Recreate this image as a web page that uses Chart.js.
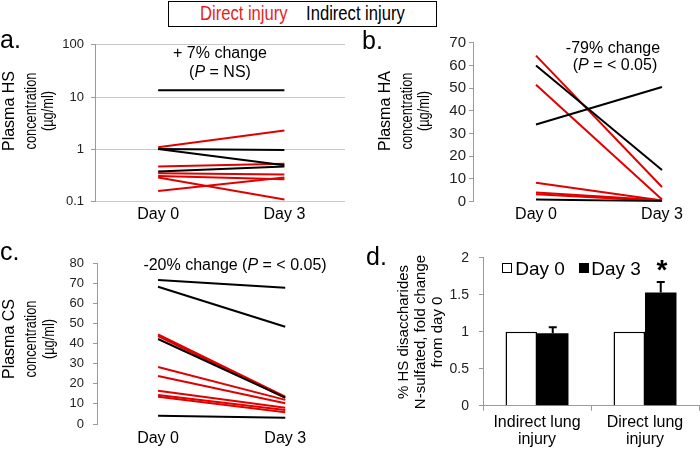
<!DOCTYPE html>
<html>
<head>
<meta charset="utf-8">
<script src="https://cdn.jsdelivr.net/npm/chart.js@4.4.1/dist/chart.umd.min.js"></script>
<style>
  body { margin: 0; width: 700px; height: 449px; position: relative; background: #fff; overflow: hidden;
         font-family: 'Liberation Sans', Arial, sans-serif; color: #000; }
  canvas { position: absolute; }
  .t { position: absolute; white-space: nowrap; line-height: 1; transform: translate(-50%, -50%); }
  .v { position: absolute; white-space: nowrap; line-height: 1; transform: translate(-50%, -50%) rotate(-90deg); }
  .vn { position: absolute; white-space: nowrap; line-height: 1; font-size: 16px;
        transform: translate(-50%, -50%) rotate(-90deg) scaleX(0.8); }
  .lbl { position: absolute; font-size: 25px; line-height: 1; }
  #key { position: absolute; left: 168px; top: 1px; width: 269px; height: 26px; box-sizing: border-box;
         border: 1.5px solid #000; text-align: center; line-height: 23px; }
  #key span { display: inline-block; font-size: 20px; transform: scaleX(0.83); }
  .sq { position: absolute; width: 10px; height: 10px; box-sizing: border-box; border: 1.5px solid #000; }
</style>
</head>
<body>
<div id="key"><span style="color:#e31e24">Direct injury&nbsp;&nbsp;&nbsp;&nbsp;<span style="color:#000;transform:none;font-size:20px">Indirect injury</span></span></div>

<canvas id="chartA" width="350" height="195" style="left:0;top:30px"></canvas>
<canvas id="chartB" width="350" height="195" style="left:350px;top:30px"></canvas>
<canvas id="chartC" width="350" height="229" style="left:0;top:220px"></canvas>
<canvas id="chartD" width="350" height="229" style="left:350px;top:220px"></canvas>

<div class="lbl" style="left:0;top:27px">a.</div>
<div class="lbl" style="left:362px;top:28px">b.</div>
<div class="lbl" style="left:0;top:239px">c.</div>
<div class="lbl" style="left:366px;top:244px">d.</div>

<div class="v" style="left:9px;top:111px;font-size:16px">Plasma HS</div>
<div class="vn" style="left:31px;top:111px">concentration</div>
<div class="vn" style="left:48px;top:111px">(µg/ml)</div>

<div class="v" style="left:385px;top:111px;font-size:16px">Plasma HA</div>
<div class="vn" style="left:407px;top:111px">concentration</div>
<div class="vn" style="left:424px;top:111px">(µg/ml)</div>

<div class="v" style="left:9px;top:339px;font-size:16px">Plasma CS</div>
<div class="vn" style="left:31px;top:339px">concentration</div>
<div class="vn" style="left:49px;top:339px">(µg/ml)</div>

<div class="v" style="left:402px;top:332px;font-size:15px">% HS disaccharides</div>
<div class="v" style="left:419px;top:332px;font-size:15px">N-sulfated, fold change</div>
<div class="v" style="left:436px;top:332px;font-size:15px">from day 0</div>

<div class="t" style="left:220px;top:53px;font-size:16px">+ 7% change</div>
<div class="t" style="left:220px;top:72px;font-size:16px">(<i>P</i> = NS)</div>
<div class="t" style="left:613px;top:48px;font-size:16px">-79% change</div>
<div class="t" style="left:615px;top:65px;font-size:16px">(<i>P</i> = &lt; 0.05)</div>
<div class="t" style="left:235px;top:265px;font-size:16px">-20% change (<i>P</i> = &lt; 0.05)</div>

<div class="sq" style="left:502px;top:263px;background:#fff"></div>
<div class="t" style="left:540px;top:268px;font-size:19px">Day 0</div>
<div class="sq" style="left:579px;top:263px;background:#000"></div>
<div class="t" style="left:616px;top:268px;font-size:19px">Day 3</div>
<div class="t" style="left:662px;top:270px;font-size:28px;font-weight:bold">*</div>

<script>
// paired values per subject: [Day 0, Day 3]
const days = ['Day 0', 'Day 3'];

const hsDirect = [[1.1, 2.3], [0.47, 0.53], [0.35, 0.33], [0.31, 0.27], [0.29, 0.11], [0.16, 0.29]];
const hsIndirect = [[13.5, 13.5], [1.02, 0.97], [1.02, 0.5], [0.38, 0.47]];
const hsTicks = [0.1, 1, 10, 100];

const haDirect = [[64.3, 6.5], [51.5, 1.0], [8.3, 0.5], [4.0, 0.6], [3.3, 0.3]];
const haIndirect = [[60, 14], [34, 50.5], [1.0, 0.2]];

const csDirect = [[44.6, 13.6], [43.8, 13], [28.4, 12], [23.9, 10.3], [16.6, 8.1], [14.4, 7], [13.6, 5.8]];
const csIndirect = [[71.7, 67.8], [68.3, 48.4], [42.3, 13.1], [4.1, 3.1]];

// panel d
const groups = [['Indirect lung', 'injury'], ['Direct lung', 'injury']];
const day0 = [1, 1];
const day3 = [0.98, 1.53];
const day3Err = [0.08, 0.14];

const RED = '#e00000';
const AXIS = '#9a9a9a';

Chart.defaults.font.family = "'Liberation Sans', Arial, sans-serif";
Chart.defaults.color = '#000';
Chart.defaults.animation = false;

function pairSets(direct, indirect) {
  const sets = [];
  indirect.forEach(p => sets.push({ data: [{x: 0, y: p[0]}, {x: 1, y: p[1]}], borderColor: '#000' }));
  direct.forEach(p => sets.push({ data: [{x: 0, y: p[0]}, {x: 1, y: p[1]}], borderColor: RED }));
  sets.forEach(s => { s.borderWidth = 2; s.pointRadius = 0; s.tension = 0; });
  return sets;
}

function dayAxis(min, max, height, pad) {
  return {
    type: 'linear', min: min, max: max,
    grid: { display: false, drawTicks: false }, border: { display: false },
    afterBuildTicks: s => { s.ticks = [{value: 0}, {value: 1}]; },
    afterFit: s => { s.height = height; },
    ticks: { font: { size: 16 }, padding: pad, callback: v => days[v] }
  };
}

function pairChart(id, direct, indirect, xs, ys, layout) {
  return new Chart(document.getElementById(id), {
    type: 'line',
    data: { datasets: pairSets(direct, indirect) },
    options: {
      responsive: false,
      layout: { padding: layout.padding },
      plugins: { legend: { display: false }, tooltip: { enabled: false } },
      scales: { x: xs, y: ys }
    }
  });
}

// a. HS, log scale
pairChart('chartA', hsDirect, hsIndirect,
  dayAxis(-0.5, 1.48, 23.3, 3),
  {
    type: 'logarithmic', min: 0.1, max: 100,
    afterBuildTicks: s => { s.ticks = hsTicks.map(v => ({value: v, major: true})); },
    afterFit: s => { s.width = 95; },
    grid: { color: '#c8c8c8', tickColor: AXIS, tickLength: 4, lineWidth: 1 },
    border: { color: AXIS },
    ticks: { font: { size: 13 }, color: '#222', padding: 7, callback: v => String(v) }
  },
  { padding: { top: 12.7, right: 5, left: 0, bottom: 0 } });

// b. HA
pairChart('chartB', haDirect, haIndirect,
  dayAxis(-0.5, 1.262, 23.3, 3),
  {
    min: 0, max: 70,
    afterFit: s => { s.width = 123; },
    grid: { drawOnChartArea: false, color: AXIS, tickLength: 4 },
    border: { color: AXIS },
    ticks: { stepSize: 10, font: { size: 15 }, color: '#222', padding: 3 }
  },
  { padding: { top: 12.7, right: 5, left: 0, bottom: 0 } });

// c. CS
pairChart('chartC', csDirect, csIndirect,
  dayAxis(-0.48, 1.47, 25, 5),
  {
    min: 0, max: 80,
    afterFit: s => { s.width = 97; },
    grid: { drawOnChartArea: false, color: AXIS, tickLength: 4 },
    border: { color: AXIS },
    ticks: { stepSize: 10, font: { size: 13 }, color: '#222', padding: 9 }
  },
  { padding: { top: 43.3, right: 5, left: 0, bottom: 0 } });

// d. error bars drawn from day3Err through the y scale
const errorBars = {
  id: 'errorBars',
  afterDatasetsDraw(chart) {
    const ctx = chart.ctx;
    const y = chart.scales.y;
    chart.data.datasets.forEach((ds, i) => {
      if (!ds.errors) return;
      chart.getDatasetMeta(i).data.forEach((bar, j) => {
        const top = y.getPixelForValue(ds.data[j] + ds.errors[j]);
        ctx.save();
        ctx.strokeStyle = '#000';
        ctx.lineWidth = 2;
        ctx.beginPath();
        ctx.moveTo(bar.x, bar.y);
        ctx.lineTo(bar.x, top);
        ctx.moveTo(bar.x - 4, top);
        ctx.lineTo(bar.x + 4, top);
        ctx.stroke();
        ctx.restore();
      });
    });
  }
};

new Chart(document.getElementById('chartD'), {
  type: 'bar',
  data: {
    labels: groups,
    datasets: [
      { label: 'Day 0', data: day0, backgroundColor: '#fff', borderColor: '#000', borderWidth: 1.5,
        categoryPercentage: 0.583, barPercentage: 1 },
      { label: 'Day 3', data: day3, errors: day3Err, backgroundColor: '#000', borderColor: '#000', borderWidth: 0,
        categoryPercentage: 0.583, barPercentage: 1 }
    ]
  },
  options: {
    responsive: false,
    layout: { padding: { top: 37.7, right: 1, left: 0, bottom: 0 } },
    plugins: { legend: { display: false }, tooltip: { enabled: false } },
    scales: {
      x: {
        grid: { drawOnChartArea: false, color: AXIS, tickLength: 5 },
        border: { color: AXIS },
        afterFit: s => { s.height = 43.3; },
        ticks: { font: { size: 16, lineHeight: 1.08 }, padding: 3 }
      },
      y: {
        min: 0, max: 2,
        afterFit: s => { s.width = 133; },
        grid: { drawOnChartArea: false, color: AXIS, tickLength: 4 },
        border: { color: AXIS },
        ticks: { stepSize: 0.5, font: { size: 14 }, color: '#222', padding: 10, callback: v => String(v) }
      }
    }
  },
  plugins: [errorBars]
});
</script>
</body>
</html>
